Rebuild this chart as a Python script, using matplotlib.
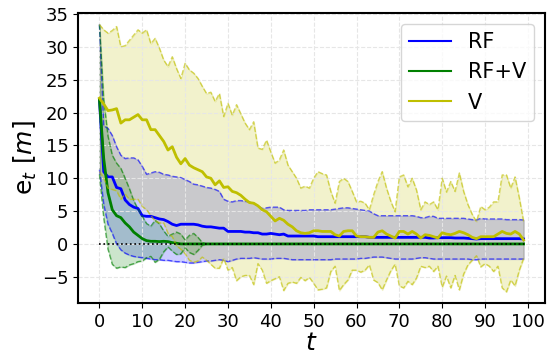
import numpy as np
import matplotlib.pyplot as plt

# -----------------------------
# datos
# -----------------------------

t = np.arange(100)

rf_mean = [22.0, 11.0, 10.2, 10.2, 8.6, 8.4, 6.7, 6.0, 5.6, 5.4,
           4.3, 4.2, 4.2, 4.0, 3.8, 3.7, 3.4, 3.0, 2.8, 3.0,
           3.0, 3.0, 3.0, 2.9, 2.7, 2.6, 2.6, 2.5, 2.4, 2.4,
           1.9, 1.9, 1.9, 1.9, 1.8, 1.8, 1.7, 1.7, 1.5, 1.5,
           1.6, 1.5, 1.4, 1.5, 1.2, 1.2, 1.2, 1.2, 1.2, 1.2,
           1.2, 1.1, 1.1, 1.1, 1.1, 1.1, 1.1, 1.1, 1.1, 1.1,
           1.1, 1.1, 1.1, 1.0, 1.0, 1.0, 1.0, 1.0, 1.0, 1.0,
           1.0, 1.0, 1.0, 1.0, 1.0, 1.0, 1.0, 0.9, 0.9, 0.95,
           0.95, 0.95, 0.95, 0.9, 0.9, 0.9, 0.85, 0.8, 0.75, 0.8,
           0.8, 0.8, 0.8, 0.8, 0.8, 0.8, 0.8, 0.8, 0.8, 0.75]
rf_upper = [33.4, 18.0, 17.6, 16.5, 14.8, 13.5, 13.0, 13.1, 13.1, 12.8,
            11.8, 10.6, 10.8, 11.0, 10.9, 10.6, 10.5, 10.3, 10.2, 10.1,
            9.8, 9.5, 9.1, 9.0, 8.8, 8.6, 8.5, 8.3, 8.0, 6.8,
            6.5, 6.4, 6.6, 6.6, 6.5, 6.4, 6.2, 5.8, 5.4, 5.5,
            5.6, 5.6, 5.6, 5.2, 5.1, 5.1, 5.1, 5.1, 5.1, 5.2,
            5.2, 5.2, 5.2, 5.2, 5.2, 5.3, 5.4, 5.5, 5.5, 5.4,
            5.3, 5.2, 5.1, 5.0, 4.6, 4.3, 4.3, 4.3, 4.3, 4.3,
            4.3, 4.3, 4.3, 4.3, 4.2, 4.0, 4.0, 4.2, 4.2, 3.9,
            3.9, 3.9, 3.9, 3.9, 3.9, 3.9, 3.8, 3.7, 3.65, 3.9,
            3.8, 3.8, 3.8, 3.8, 3.8, 3.7, 3.7, 3.7, 3.7, 3.65]
rf_lower = [11.3, 6.0, 3.0, 1.6, 0.0, -0.9, -1.4, -1.7, -1.9, -2.0,
            -2.1, -2.2, -2.3, -2.4, -2.4, -2.5, -2.5, -2.6, -2.7, -2.7,
            -2.8, -2.9, -2.9, -2.8, -2.7, -2.6, -2.6, -2.5, -2.4, -2.5,
            -2.7, -2.5, -2.3, -2.2, -2.2, -2.2, -2.1, -2.2, -2.3, -2.3,
            -2.3, -2.2, -2.2, -2.2, -2.3, -2.4, -2.4, -2.4, -2.4, -2.4,
            -2.4, -2.4, -2.4, -2.4, -2.4, -2.3, -2.3, -2.3, -2.3, -2.3,
            -2.3, -2.2, -2.2, -2.1, -2.0, -2.0, -2.0, -2.1, -2.2, -2.3,
            -2.3, -2.3, -2.3, -2.3, -2.2, -2.1, -2.1, -2.2, -2.3, -2.3,
            -2.3, -2.3, -2.3, -2.3, -2.3, -2.3, -2.3, -2.4, -2.4, -2.3,
            -2.3, -2.3, -2.3, -2.3, -2.3, -2.3, -2.3, -2.3, -2.3, -2.3]

rfv_mean = [22.0, 13.0, 7.8, 5.2, 4.3, 4.0, 3.2, 2.6, 1.8, 1.3,
            0.8, 0.5, 0.4, 0.4, 0.35, 0.4, 0.35, 0.2, 0.1, 0.0,
            0.0, 0.0, 0.0, 0.0, 0.0] + [0.0] * 75
rfv_std = [11.4, 9.0, 8.6, 8.3, 8.0, 7.5, 6.8, 5.8, 4.8, 4.0,
           3.4, 2.6, 2.3, 3.2, 2.7, 1.6, 0.8, 1.3, 1.7, 1.5,
           0.6, 1.3, 1.6, 1.0, 0.2] + [0.0] * 75

v_mean = [22.2, 21.3, 20.3, 20.4, 20.6, 18.4, 18.9, 18.9, 19.3, 19.7,
          18.9, 18.9, 17.4, 17.4, 16.5, 15.6, 14.3, 14.8, 13.2, 12.2,
          13.0, 12.0, 11.6, 11.3, 11.0, 10.2, 10.0, 9.0, 9.6, 8.6,
          8.7, 8.0, 7.8, 7.4, 6.8, 6.3, 6.2, 5.8, 5.2, 4.9,
          4.2, 3.5, 3.9, 3.6, 3.0, 2.6, 2.0, 1.7, 1.6, 1.7,
          2.0, 2.0, 1.9, 1.9, 1.9, 1.4, 1.2, 1.9, 2.0, 2.0,
          1.2, 1.1, 1.1, 1.0, 1.0, 1.8, 2.0, 1.5, 1.2, 0.9,
          1.9, 1.9, 1.5, 1.9, 1.5, 0.9, 1.4, 1.3, 1.1, 0.9,
          1.7, 1.5, 1.4, 1.6, 1.9, 1.7, 1.4, 1.0, 0.8, 1.1,
          1.1, 1.1, 1.1, 1.5, 1.9, 1.6, 1.5, 1.9, 1.5, 0.6]
v_std = [11.2, 11.3, 11.8, 12.1, 12.5, 11.6, 11.3, 12.1, 12.5, 12.9,
         13.2, 13.7, 13.1, 13.9, 13.3, 12.4, 12.7, 13.7, 13.5, 13.0,
         14.5, 14.5, 14.4, 13.9, 13.0, 12.7, 13.1, 12.7, 13.3, 10.8,
         12.7, 11.6, 13.4, 12.4, 11.6, 11.1, 12.4, 8.8, 9.2, 10.9,
         9.8, 8.8, 8.9, 10.7, 9.0, 8.4, 8.0, 6.8, 7.2, 6.8,
         8.0, 9.0, 8.8, 8.6, 6.1, 4.8, 8.3, 8.1, 7.5, 6.0,
         5.2, 5.4, 5.1, 4.2, 6.5, 7.7, 9.0, 7.0, 5.3, 4.0,
         8.3, 8.6, 7.2, 8.1, 6.7, 4.3, 5.0, 4.7, 5.3, 4.3,
         8.3, 6.4, 8.1, 6.4, 8.9, 6.3, 4.6, 3.5, 2.6, 4.6,
         4.1, 4.5, 5.3, 4.9, 8.6, 8.9, 7.0, 8.3, 5.5, 2.8]

# bandas: (nombre, media, limite inferior, limite superior, color)
rfv_m, rfv_s = np.array(rfv_mean), np.array(rfv_std)
v_m, v_s = np.array(v_mean), np.array(v_std)
series = [("RF", np.array(rf_mean), np.array(rf_lower), np.array(rf_upper), "b"),
          ("RF+V", rfv_m, rfv_m - rfv_s, rfv_m + rfv_s, "g"),
          ("V", v_m, v_m - v_s, v_m + v_s, "y")]

# -----------------------------
# graficar
# -----------------------------

fig = plt.figure(figsize=(5.47, 3.54), dpi=100)
ax = fig.add_axes([0.143, 0.144, 0.853, 0.819])

for nombre, media, inf, sup, color in series:
    ax.plot(t, media, color=color, lw=2, label=nombre)
    ax.plot(t, sup, color=color, ls="--", lw=1, alpha=0.6)
    ax.plot(t, inf, color=color, ls="--", lw=1, alpha=0.6)
    ax.fill_between(t, inf, sup, color=color, alpha=0.2)

ax.plot(t, np.zeros(len(t)), "k:", lw=1.2)

ax.set_xlim(-4.95, 103.95)
ax.set_ylim(-9.0, 35.15)
ax.set_xticks(range(0, 101, 10))
ax.set_yticks(range(-5, 36, 5))
ax.tick_params(labelsize=13)
ax.grid(True, color="#e6e6e6", ls="--", lw=0.8)
for s in ax.spines.values():
    s.set_linewidth(1.5)

ax.set_xlabel("$t$", fontsize=18, labelpad=0)
ax.set_ylabel("e$_t$ [$m$]", fontsize=18, labelpad=2)
leg = ax.legend(loc="upper right", fontsize=15)
for linea in leg.get_lines():
    linea.set_linewidth(1.5)

plt.savefig("out.png")
